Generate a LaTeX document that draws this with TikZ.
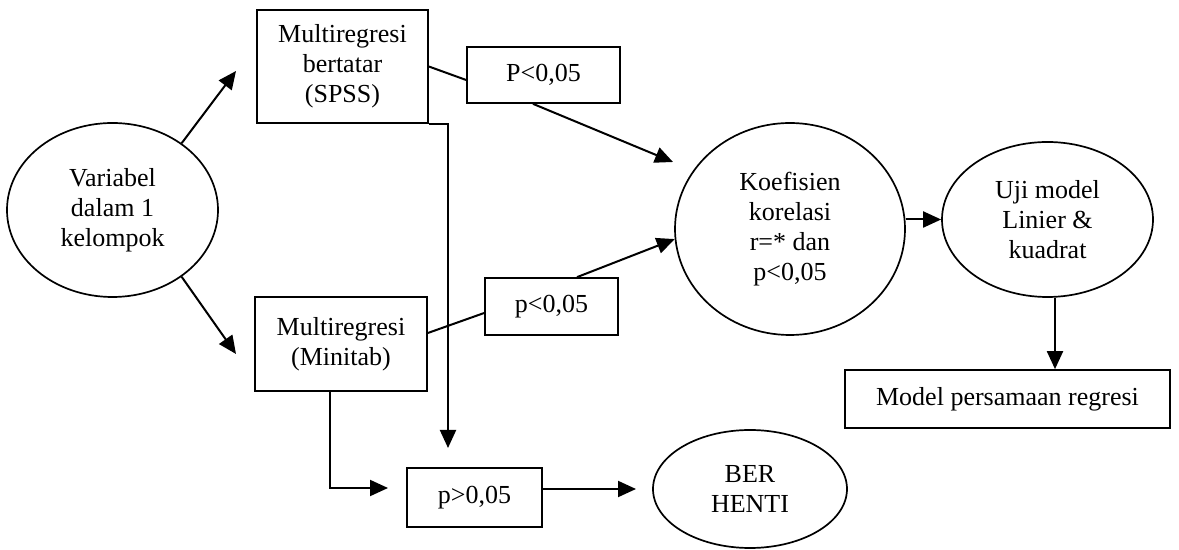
\documentclass[tikz,border=0pt]{standalone}
\usepackage{fontspec}
\setmainfont{Liberation Serif}
\usetikzlibrary{shapes.geometric,arrows.meta,calc}
\begin{document}
\begin{tikzpicture}[x=0.5pt,y=-0.5pt,
  every node/.style={font=\fontsize{13}{15}\selectfont, align=center, inner sep=0pt},
  box/.style={draw, line width=0.85pt, rectangle},
  oval/.style={draw, line width=0.85pt, ellipse},
  link/.style={line width=1pt},
  arr/.style={line width=1pt, -{Triangle[length=9pt,width=8pt]}}]
\useasboundingbox (0,0) rectangle (1179,550);

% nodes
\node[oval, minimum width=105.5pt, minimum height=87pt] (var) at (112.5,210) {Variabel\\dalam 1\\kelompok};
\node[box, minimum width=85.5pt, minimum height=56.5pt] (spss) at (342.5,66.5) {Multiregresi\\bertatar\\(SPSS)};
\node[box, minimum width=76.5pt, minimum height=28pt] (pa) at (543.5,75) {P<0,05};
\node[box, minimum width=86pt, minimum height=47pt] (mini) at (341,344) {Multiregresi\\(Minitab)};
\node[box, minimum width=66.5pt, minimum height=28.5pt] (pb) at (551.5,306.5) {p<0,05};
\node[box, minimum width=67.5pt, minimum height=29.5pt] (pc) at (474.5,497.5) {p>0,05};
\node[oval, minimum width=115pt, minimum height=106pt] (koef) at (790,229) {Koefisien\\korelasi\\r=* dan\\p<0,05};
\node[oval, minimum width=105.5pt, minimum height=77.5pt] (uji) at (1047.5,219.5) {Uji model\\Linier \&\\kuadrat};
\node[box, minimum width=162.5pt, minimum height=29pt] (model) at (1007.5,399) {Model persamaan regresi};
\node[oval, minimum width=97pt, minimum height=59pt] (stop) at (750,489) {BER\\HENTI};

% free arrow ends
\coordinate (t1) at (236,71);
\coordinate (t2) at (236,354);
\coordinate (t3) at (673,162);
\coordinate (t4) at (448,448);
\coordinate (t5) at (388,488);
\coordinate (t6) at (636,489);

% connectors
\draw[arr] (var.44) -- (t1);
\draw[arr] (var.-44) -- (t2);
\draw[link] (spss.east) -- ([yshift=-2.5pt]pa.west);
\draw[arr] ([xshift=-5.25pt]pa.south) -- (t3);
\draw[link] ([yshift=5.5pt]mini.east) -- ([yshift=-3.25pt]pb.west);
\draw[arr] ([xshift=12.75pt]pb.north) -- (koef.185);
\draw[arr] (spss.south east) -- (spss.south east -| t4) -- (t4);
\draw[arr] ([xshift=-5.5pt]mini.south) |- (t5);
\draw[arr] (pc.east |- t6) -- (t6);
\draw[arr] (koef.east |- uji.west) -- (uji.west);
\draw[arr] ([xshift=3.75pt]uji.south) -- ([xshift=3.75pt]uji.south |- model.north);
\end{tikzpicture}
\end{document}
